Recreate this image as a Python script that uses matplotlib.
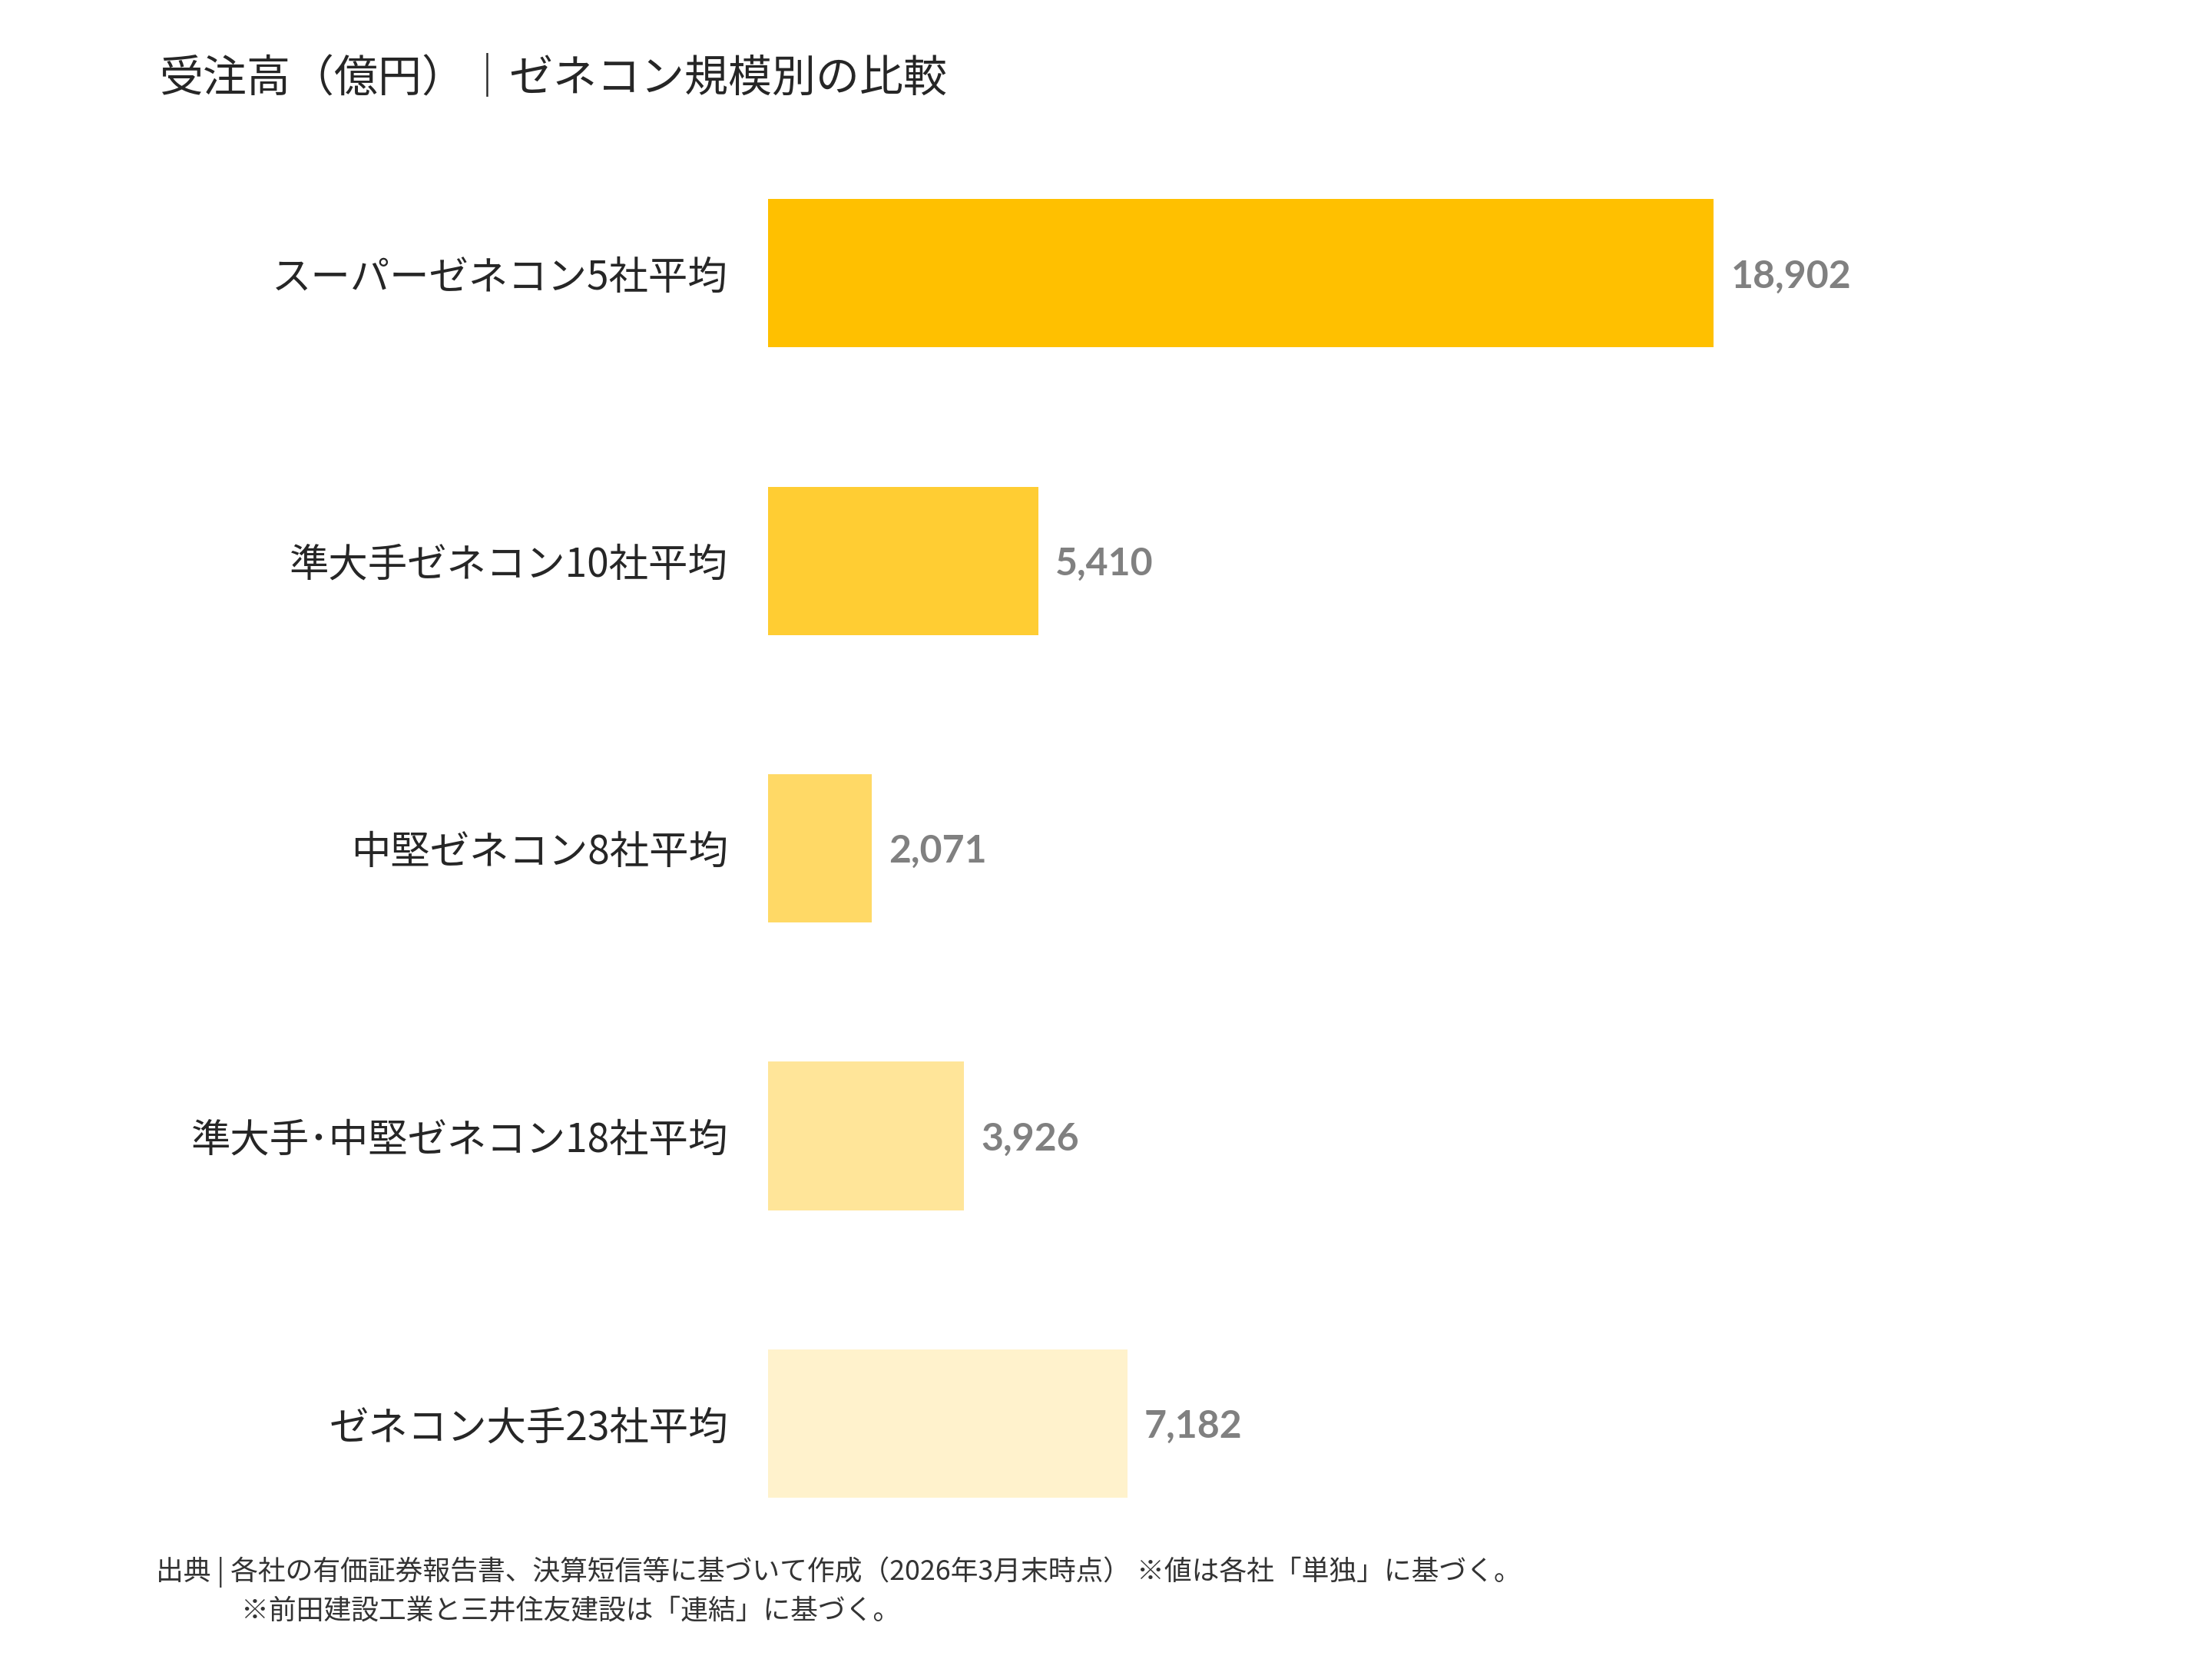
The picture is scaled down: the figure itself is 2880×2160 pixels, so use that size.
import matplotlib
matplotlib.use('Agg')
import matplotlib.pyplot as plt

plt.rcParams['font.family'] = ['Noto Sans CJK JP', 'DejaVu Sans']

# data
categories = ['スーパーゼネコン5社平均', '準大手ゼネコン10社平均', '中堅ゼネコン8社平均',
              '準大手･中堅ゼネコン18社平均', 'ゼネコン大手23社平均']
values = [18902, 5410, 2071, 3926, 7182]
bar_colors = ['#FFC000', '#FFCD33', '#FFD966', '#FFE599', '#FFF2CC']

title = '受注高（億円）｜ゼネコン規模別の比較'
note1 = '出典 | 各社の有価証券報告書、決算短信等に基づいて作成（2026年3月末時点） ※値は各社「単独」に基づく。'
note2 = '※前田建設工業と三井住友建設は「連結」に基づく。'

fig = plt.figure(figsize=(14.4, 10.8), dpi=200)
ax = fig.add_axes([0.3471, 0.0553, 0.60, 0.8666])

y = list(range(len(categories)))
ax.barh(y, values, height=0.516, color=bar_colors)
ax.set_ylim(len(categories) - 0.5, -0.5)
ax.set_xlim(0, 18902 * (0.60 * 1560) / 670 * 673 / 670)

for i, v in enumerate(values):
    ax.annotate(f'{v:,}', xy=(v, i), xytext=(8, -1.5), textcoords='offset points',
                ha='left', va='center', fontsize=18, fontweight='bold',
                color='#808080', family=['Lato', 'DejaVu Sans'])

ax.set_yticks(y)
ax.set_yticklabels(categories, fontsize=18.5, color='#262626')
ax.tick_params(axis='y', length=0, pad=18.7)
ax.set_xticks([])
for s in ax.spines.values():
    s.set_visible(False)

fig.text(0.072, 0.953, title, fontsize=20.5, color='#262626', ha='left', va='center')
fig.text(0.0705, 0.0524, note1, fontsize=12.9, color='#333333', ha='left', va='center')
fig.text(0.109, 0.0289, note2, fontsize=12.9, color='#333333', ha='left', va='center')

fig.savefig('out.png', dpi=200, facecolor='white')
